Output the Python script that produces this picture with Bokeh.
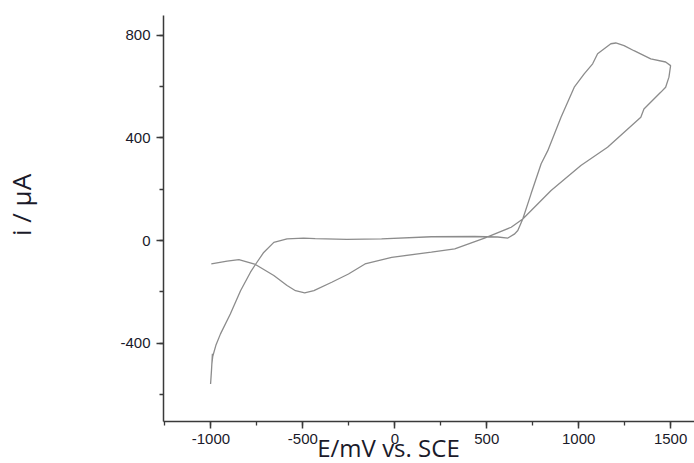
from bokeh.plotting import figure
from bokeh.models import Range1d, SingleIntervalTicker, PrintfTickFormatter
from bokeh.embed import file_html
from bokeh.resources import INLINE

# Cyclic voltammogram, potential (mV vs SCE) and current (uA), traced along the loop
potential_mV = [
    -1002, -997, -992, -995, -990, -972, -948, -894, -839, -785, -758, -713, -658,
    -586, -496, -433, -261, -72, 199, 434, 560, 615, 650, 669, 696, 741, 796, 832,
    904, 976, 1030, 1076, 1103, 1175, 1202, 1247, 1301, 1392, 1473, 1500,
    1491, 1473, 1446, 1355, 1338, 1157, 1012, 850, 696, 633, 488, 326, 199, -17,
    -162, -252, -343, -440, -490, -540, -586, -658, -758, -848, -912, -998,
]
current_uA = [
    -558, -505, -440, -480, -450, -405, -363, -285, -195, -123, -93, -46, -7,
    7, 10, 8, 5, 7, 15, 16, 14, 10, 25, 39, 84, 182, 299, 350,
    480, 597, 649, 688, 727, 766, 769, 759, 739, 707, 695, 681,
    636, 597, 577, 512, 480, 363, 292, 195, 84, 52, 10, -32, -45, -65,
    -91, -130, -162, -195, -203, -195, -175, -136, -93, -74, -80, -91,
]

x_label = "E/mV vs. SCE"
y_label = "i / μA"
NBSP = "\u00a0"

p = figure(width=694, height=471, output_backend="svg", toolbar_location=None,
           x_range=Range1d(-1258, 1630), y_range=Range1d(-704, 876),
           min_border_left=161, min_border_right=0, min_border_top=15,
           min_border_bottom=50)
p.outline_line_color = None
p.xgrid.visible = False
p.ygrid.visible = False

p.line(potential_mV, current_uA, line_color="#8c8c8c", line_width=1.3)

for ax, interval in ((p.xaxis, 500), (p.yaxis, 400)):
    ax.ticker = SingleIntervalTicker(interval=interval, num_minor_ticks=2)
    ax.formatter = PrintfTickFormatter(format="%d")
    ax.axis_line_color = "#3a3a3a"
    ax.axis_line_width = 1.5
    ax.major_tick_line_color = "#3a3a3a"
    ax.major_tick_line_width = 1.5
    ax.minor_tick_line_color = "#3a3a3a"
    ax.minor_tick_line_width = 1.3
    ax.major_tick_in = 0
    ax.major_tick_out = 7
    ax.minor_tick_in = 0
    ax.minor_tick_out = 4
    ax.major_label_text_font = "Liberation Sans"
    ax.major_label_text_font_size = "15px"
    ax.major_label_text_color = "#1a1a2a"
    ax.axis_label_text_font = "Open Sans"
    ax.axis_label_text_font_style = "normal"
    ax.axis_label_text_color = "#1a1a2a"
p.xaxis.major_label_standoff = 5
p.yaxis.major_label_standoff = 6

p.yaxis.axis_label = NBSP * 4 + y_label
p.yaxis.axis_label_text_font_size = "26px"
p.yaxis.axis_label_standoff = 78

p.xaxis.axis_label = x_label + NBSP * 13
p.xaxis.axis_label_text_font_size = "24px"
p.xaxis.axis_label_standoff = -16

open("out.html", "w").write(file_html(p, INLINE))
